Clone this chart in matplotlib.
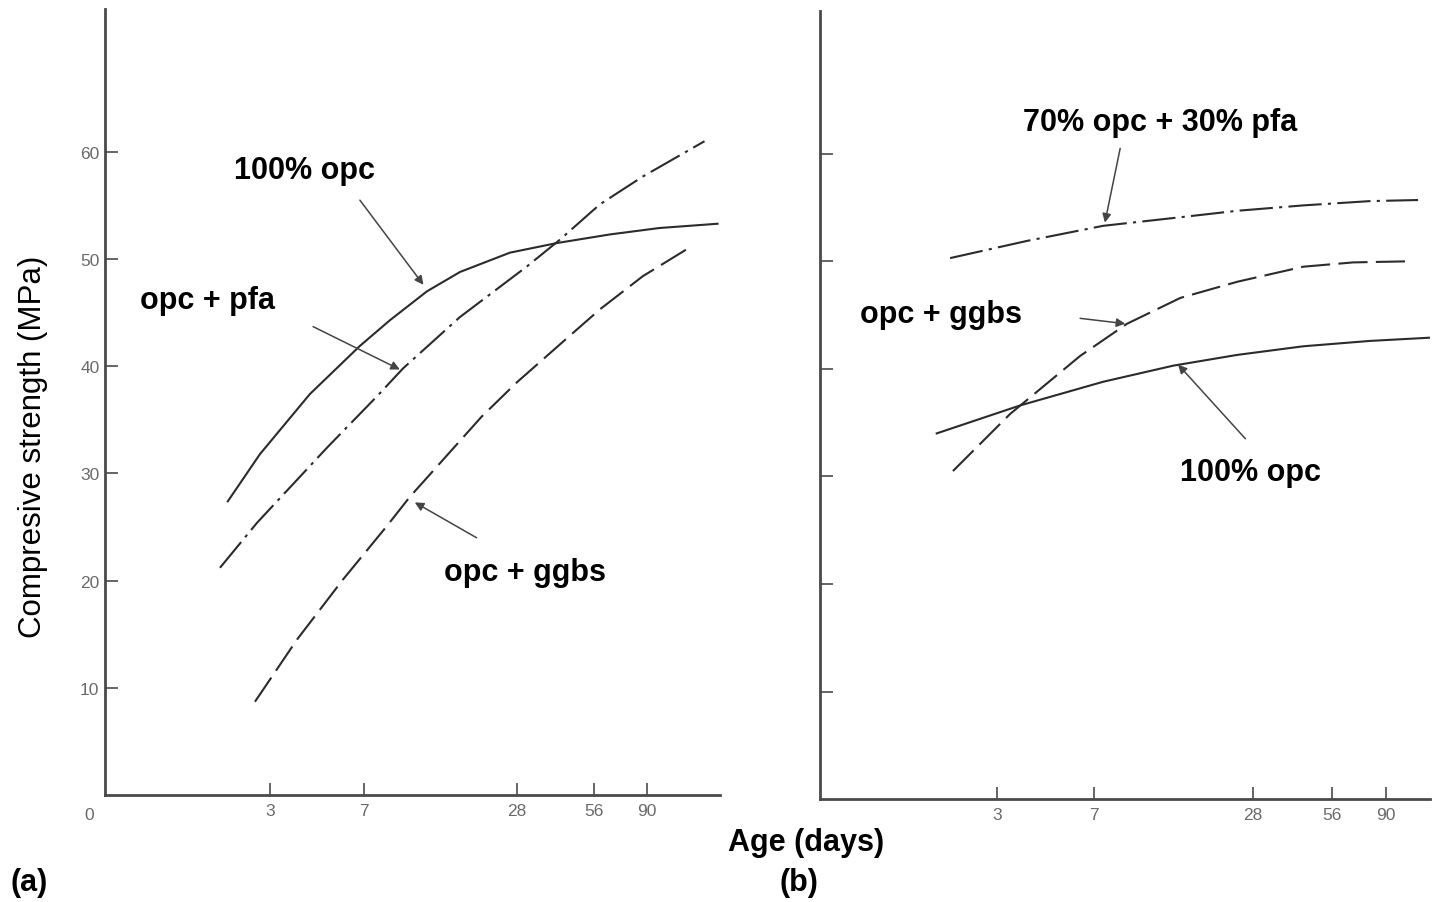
import matplotlib
matplotlib.use("Agg")
import matplotlib.pyplot as plt

plt.rcParams["font.family"] = ["Liberation Sans", "DejaVu Sans"]

# ages (days) and compressive strength (MPa)
# panel (a)
a_opc_age = [2.05, 2.74, 4.30, 6.76, 8.87, 12.4, 16.7, 26.2, 40.1, 64.6, 101, 171]
a_opc_mpa = [27.4, 31.8, 37.4, 41.9, 44.3, 47.0, 48.8, 50.6, 51.5, 52.3, 52.9, 53.3]

a_pfa_age = [1.91, 2.67, 5.02, 7.89, 9.98, 16.7, 30.5, 41.1, 59, 87, 152]
a_pfa_mpa = [21.2, 25.4, 32.4, 37.2, 39.8, 44.6, 49.3, 51.8, 55.1, 57.7, 61.0]

a_ggbs_age = [2.62, 3.83, 5.8, 8.63, 10.6, 20.3, 27.9, 40.1, 59, 87, 129]
a_ggbs_mpa = [8.7, 14.5, 20.1, 25.1, 27.8, 35.3, 38.5, 41.8, 45.3, 48.4, 50.9]

# panel (b)
b_pfa_age = [1.99, 3.90, 7.58, 14.9, 24.5, 43.6, 78.2, 119]
b_pfa_mpa = [50.3, 51.9, 53.3, 54.1, 54.7, 55.2, 55.6, 55.7]

b_ggbs_age = [2.04, 3.36, 6.2, 9.35, 14.9, 24.5, 43.6, 67.5, 109]
b_ggbs_mpa = [30.5, 35.8, 41.2, 44.2, 46.6, 48.1, 49.5, 49.9, 50.0]

b_opc_age = [1.77, 3.67, 7.58, 14.0, 24.5, 43.6, 78.2, 132]
b_opc_mpa = [34.0, 36.6, 38.8, 40.3, 41.3, 42.1, 42.6, 42.9]

age_ticks = [3, 7, 28, 56, 90]
mpa_ticks = [10, 20, 30, 40, 50, 60]

ink = "#2b2b2b"
axis_col = "#4a4a4a"
solid = "-"
dashdot = (0, (16, 3, 1.5, 3))
dashed = (0, (14, 4))

fig = plt.figure(figsize=(14.34, 9.03), dpi=100)
ax1 = fig.add_axes([0.0732, 0.1185, 0.4288, 0.870])
ax2 = fig.add_axes([0.5718, 0.114, 0.4254, 0.873])


def style_axis(ax, xlim, show_ylabels):
    ax.set_xscale("log")
    ax.set_xlim(*xlim)
    ax.set_ylim(0, 73.3)
    ax.set_xticks(age_ticks)
    ax.set_xticklabels([str(t) for t in age_ticks])
    ax.minorticks_off()
    ax.set_yticks(mpa_ticks)
    if show_ylabels:
        ax.set_yticklabels([str(t) for t in mpa_ticks])
    else:
        ax.set_yticklabels([])
    for side in ["top", "right"]:
        ax.spines[side].set_visible(False)
    for side in ["left", "bottom"]:
        ax.spines[side].set_color(axis_col)
        ax.spines[side].set_linewidth(2)
    ax.tick_params(axis="both", direction="in", length=9, width=1.2,
                   color=axis_col, labelcolor="#6a6a6a", labelsize=12.5)
    ax.tick_params(axis="x", pad=6)
    ax.tick_params(axis="y", pad=4)
    ax.patch.set_alpha(0)


style_axis(ax1, (0.676, 174.6), True)
style_axis(ax2, (0.638, 132), False)
ax1.text(-0.025, -0.025, "0", transform=ax1.transAxes, ha="center", va="center",
         fontsize=12.5, color="#6a6a6a")

ax1.plot(a_opc_age, a_opc_mpa, color=ink, lw=1.5, ls=solid)
ax1.plot(a_pfa_age, a_pfa_mpa, color=ink, lw=1.5, ls=dashdot)
ax1.plot(a_ggbs_age, a_ggbs_mpa, color=ink, lw=1.5, ls=dashed)

ax2.plot(b_pfa_age, b_pfa_mpa, color=ink, lw=1.5, ls=dashdot)
ax2.plot(b_ggbs_age, b_ggbs_mpa, color=ink, lw=1.5, ls=dashed)
ax2.plot(b_opc_age, b_opc_mpa, color=ink, lw=1.5, ls=solid)

arrow = dict(arrowstyle="-|>", color="#444444", lw=1.1, mutation_scale=13,
             shrinkA=0, shrinkB=0)
lab = dict(fontsize=22, fontweight="bold", ha="center", va="center", color="black")

# panel (a) labels and pointers
ax1.text(4.1, 58.3, "100% opc", **lab)
ax1.annotate("", xy=(12.0, 47.6), xytext=(6.76, 55.5), arrowprops=arrow)
ax1.text(1.70, 46.2, "opc + pfa", **lab)
ax1.annotate("", xy=(9.7, 39.7), xytext=(4.43, 43.7), arrowprops=arrow)
ax1.text(30.0, 20.8, "opc + ggbs", **lab)
ax1.annotate("", xy=(11.1, 27.3), xytext=(19.4, 24.0), arrowprops=arrow)

# panel (b) labels and pointers
ax2.text(12.5, 63.0, "70% opc + 30% pfa", **lab)
ax2.annotate("", xy=(7.7, 53.6), xytext=(8.8, 60.5), arrowprops=arrow)
ax2.text(1.84, 45.1, "opc + ggbs", **lab)
ax2.annotate("", xy=(9.2, 44.2), xytext=(6.2, 44.7), arrowprops=arrow)
ax2.text(27.4, 30.4, "100% opc", **lab)
ax2.annotate("", xy=(14.6, 40.4), xytext=(26.3, 33.5), arrowprops=arrow)

fig.text(33 / 1434, 1 - 447 / 903, "Compresive strength (MPa)", rotation=90,
         ha="center", va="center", fontsize=22.5)
fig.text(806 / 1434, 1 - 843 / 903, "Age (days)", ha="center", va="center",
         fontsize=22, fontweight="bold")
fig.text(29 / 1434, 1 - 883 / 903, "(a)", ha="center", va="center",
         fontsize=22, fontweight="bold")
fig.text(799 / 1434, 1 - 883 / 903, "(b)", ha="center", va="center",
         fontsize=22, fontweight="bold")

fig.savefig("out.png", dpi=100)
